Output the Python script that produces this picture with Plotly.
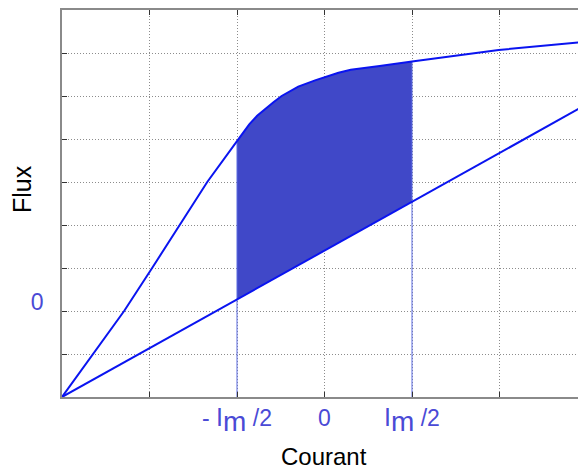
import plotly.graph_objects as go

# ---- data ----
upper_x = [0, 0.36, 0.71, 1.03, 1.34, 1.66, 2.0, 2.07, 2.14, 2.23, 2.32, 2.42, 2.51, 2.61, 2.70,
           2.90, 3.0, 3.16, 3.3, 3.45, 3.63, 4.0, 4.21, 4.99, 5.99, 6.08]
upper_y = [0, 1.0, 2.0, 3.0, 4.0, 5.0, 5.95, 6.15, 6.34, 6.54, 6.70, 6.86, 7.0, 7.12, 7.22,
           7.37, 7.44, 7.54, 7.61, 7.655, 7.70, 7.80, 7.86, 8.07, 8.26, 8.28]
lower_x = [0, 2.0, 4.0, 6.08]
lower_y = [0, 2.27, 4.54, 6.90]
i_left, i_right = 2.0, 4.0
x_tickvals = [1, 2, 3, 4, 5]
IM = "<span style='font-size:25px'>I</span><sub><span style='font-size:28px'>m</span></sub>"
x_ticktext = ["", "- " + IM + " /2", "0", IM + " /2", ""]
y_tickvals = [1, 2, 3, 4, 5, 6, 7, 8]
y_ticktext = ["", "0", "", "", "", "", "", ""]
x_frame_right = 6  # position of the (cut-off) right frame

LINE = "#0a14f0"
FILL = "#4048c8"
LABEL = "#4a4ad6"
FONT = "Liberation Sans, Arial, sans-serif"

# polygon for shaded region: upper curve between i_left and i_right, back along lower line
seg_x = [x for x in upper_x if i_left <= x <= i_right]
seg_y = [y for x, y in zip(upper_x, upper_y) if i_left <= x <= i_right]
low_seg = [(x, y) for x, y in zip(lower_x, lower_y) if i_left <= x <= i_right]
poly_x = seg_x + [p[0] for p in reversed(low_seg)] + [seg_x[0]]
poly_y = seg_y + [p[1] for p in reversed(low_seg)] + [seg_y[0]]

fig = go.Figure()
fig.add_trace(go.Scatter(x=poly_x, y=poly_y, fill="toself", fillcolor=FILL,
                         line=dict(width=0, color=FILL), mode="lines", hoverinfo="skip"))
# vertical guides at ±Im/2
fig.add_trace(go.Scatter(x=[i_left, i_left], y=[0, seg_y[0]], mode="lines",
                         line=dict(color="#5a6ae0", width=1)))
fig.add_trace(go.Scatter(x=[i_right, i_right], y=[0, seg_y[-1]], mode="lines",
                         line=dict(color="#5a6ae0", width=1)))
fig.add_trace(go.Scatter(x=upper_x, y=upper_y, mode="lines", line=dict(color=LINE, width=2)))
fig.add_trace(go.Scatter(x=lower_x, y=lower_y, mode="lines", line=dict(color=LINE, width=2)))

# right-hand inward tick marks (edge of the cut-off frame)
shapes = []
for yv in y_tickvals:
    shapes.append(dict(type="line", xref="x", yref="y", x0=x_frame_right - 5 / 87.5,
                       x1=x_frame_right, y0=yv, y1=yv,
                       line=dict(color="#333333", width=1)))

axis_common = dict(showgrid=True, gridcolor="#8c8c8c", griddash="1px,2px", gridwidth=1,
                   showline=True, linecolor="#8a8a8a", linewidth=1.5,
                   ticks="inside", ticklen=5, tickcolor="#333333", tickwidth=1,
                   zeroline=False, automargin=False)

# the page body has an 8px margin, so the figure is drawn offset by 8px
fig.update_layout(
    width=586, height=470,
    margin=dict(l=54, r=0, t=2, b=81, autoexpand=False),
    paper_bgcolor="white", plot_bgcolor="white",
    showlegend=False,
    xaxis=dict(range=[0, 6.08], tickmode="array", tickvals=x_tickvals, ticktext=x_ticktext,
               mirror="ticks", ticklabelstandoff=0,
               tickfont=dict(family=FONT, size=23, color=LABEL), **axis_common),
    yaxis=dict(range=[0, 9], tickmode="array", tickvals=y_tickvals, ticktext=y_ticktext,
               ticklabelstandoff=12, ticklabelshift=-9,
               tickfont=dict(family=FONT, size=23, color=LABEL), **axis_common),
    shapes=shapes,
    annotations=[
        dict(text="Courant", xref="paper", yref="paper", x=0.4934, y=-0.155, xanchor="center",
             yanchor="middle", showarrow=False, font=dict(family=FONT, size=24, color="black")),
        dict(text="Flux", xref="paper", yref="paper", x=-0.0752, y=0.5375, xanchor="center",
             yanchor="middle", showarrow=False, textangle=-90,
             font=dict(family=FONT, size=25, color="black")),
    ],
)

fig.write_html("out.html")
